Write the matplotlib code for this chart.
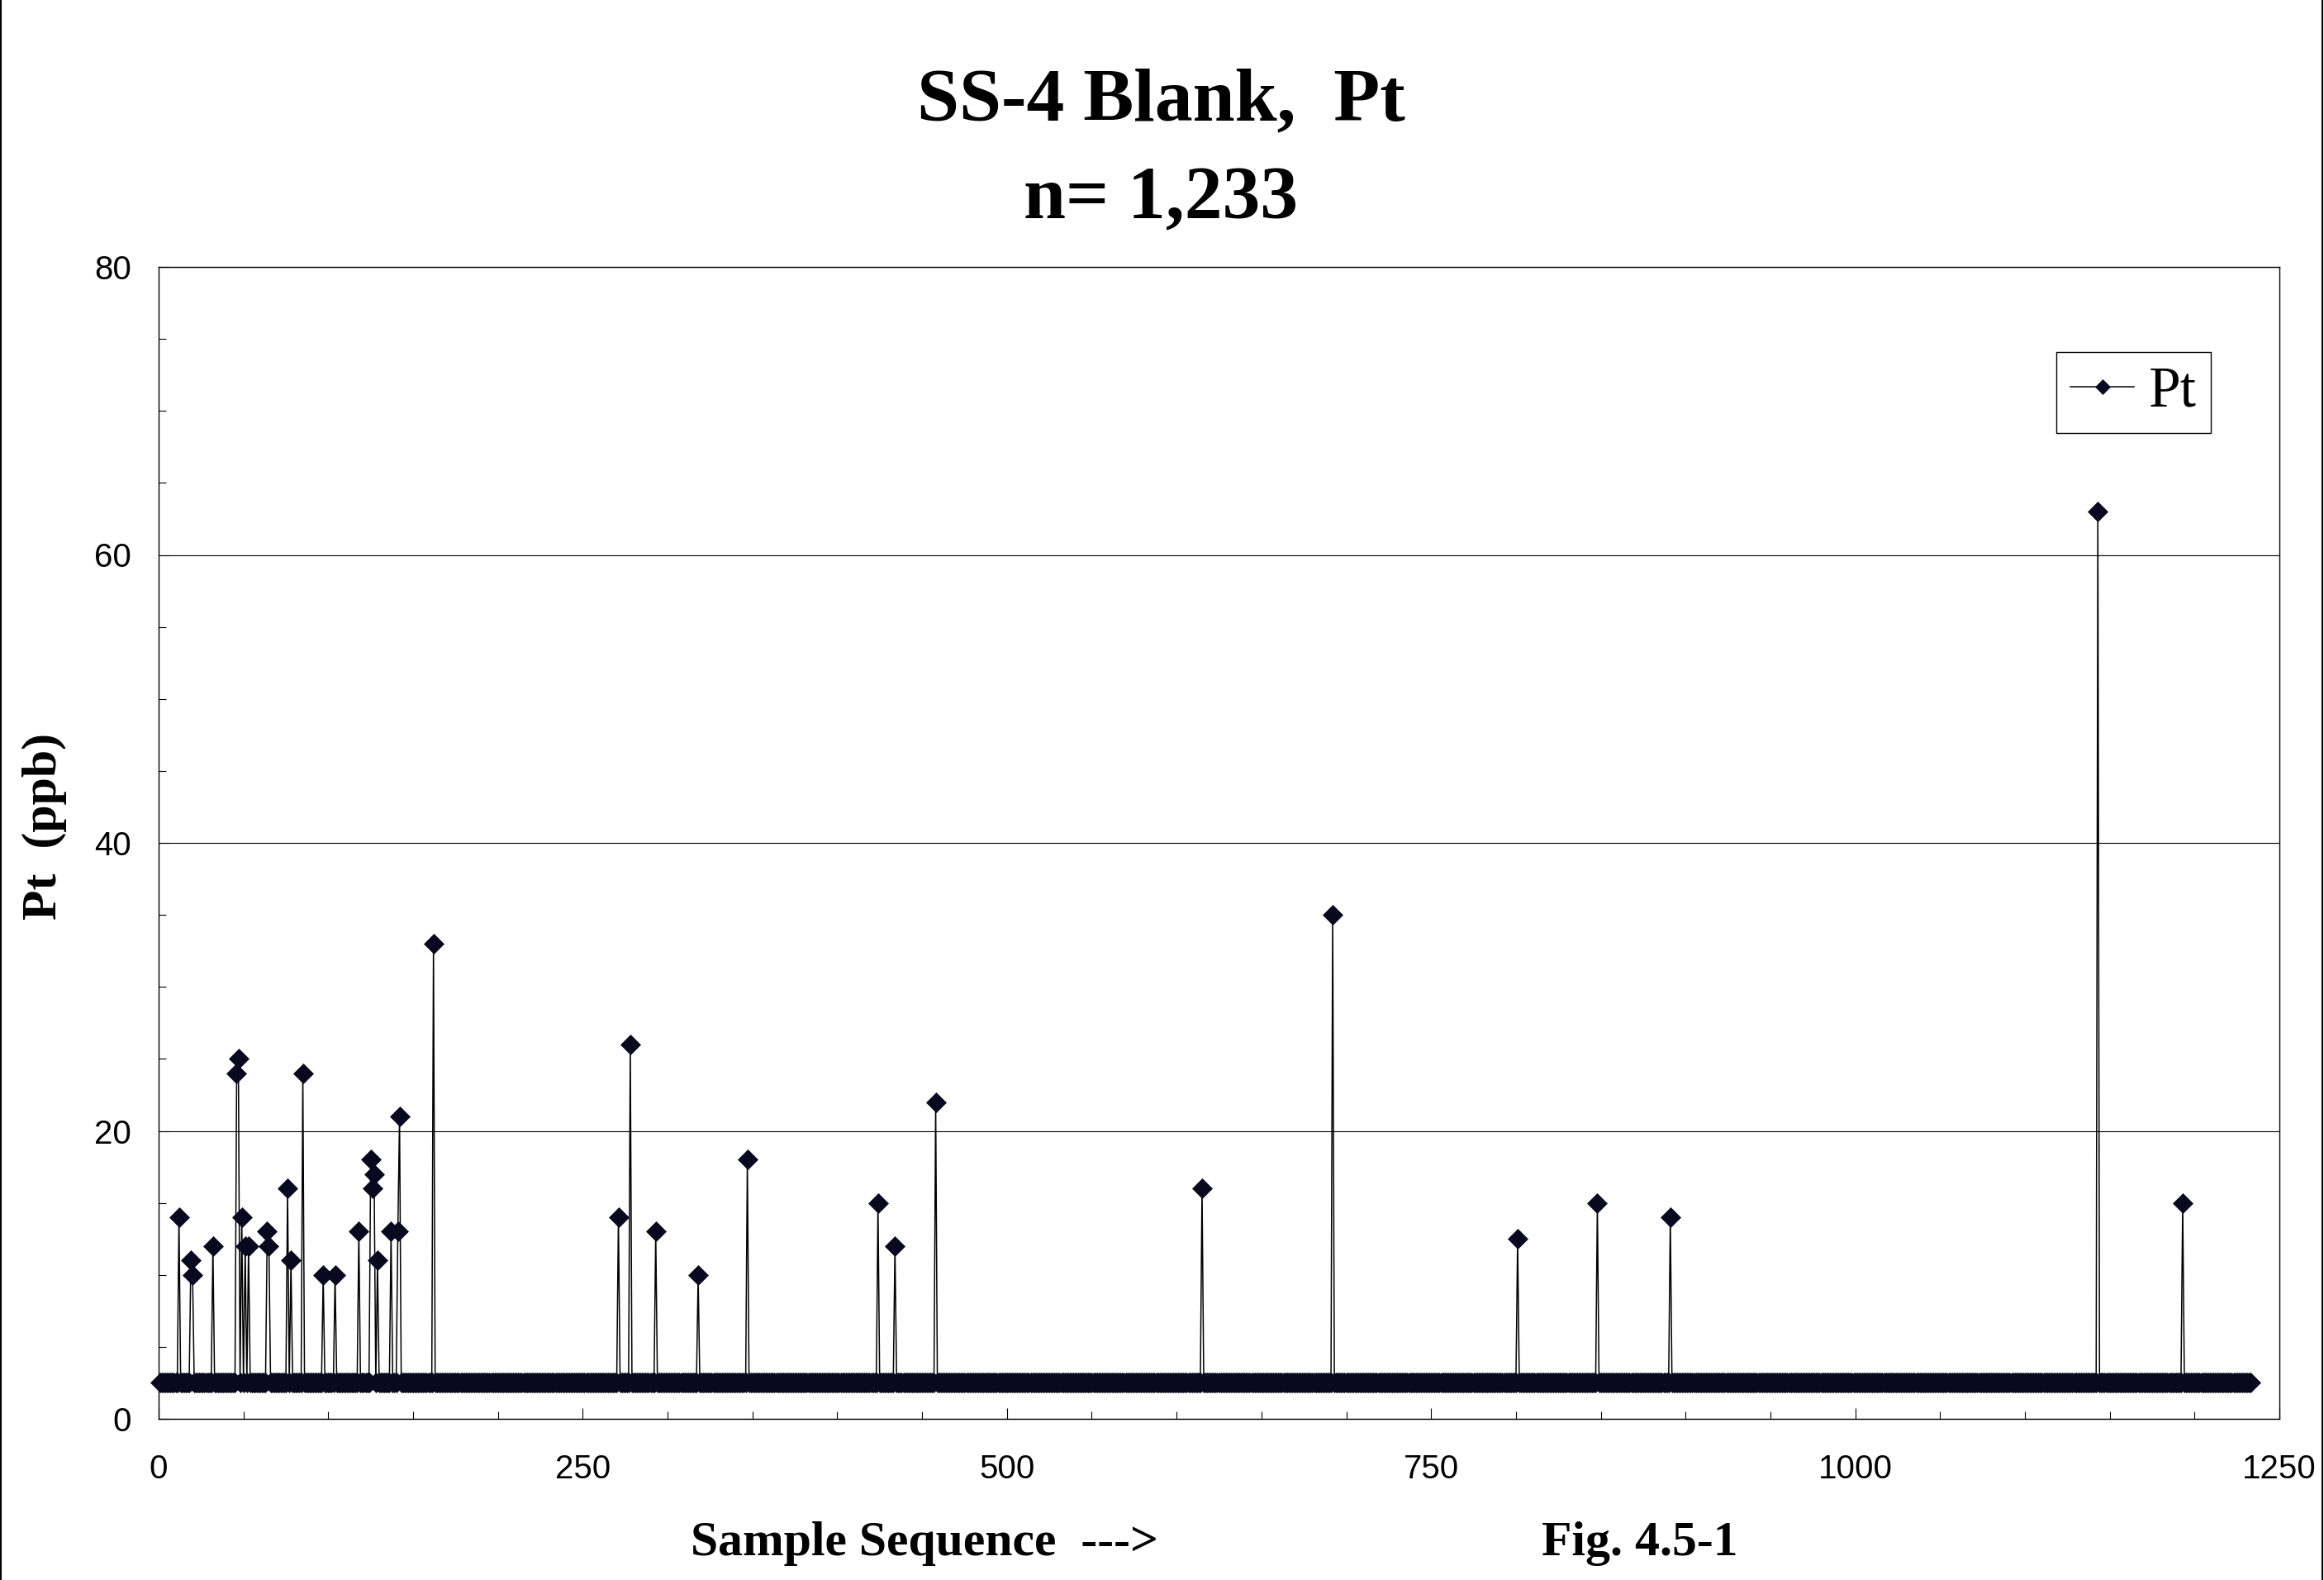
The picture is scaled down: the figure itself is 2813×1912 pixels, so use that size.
import numpy as np
import matplotlib
matplotlib.use("Agg")
import matplotlib.pyplot as plt
from matplotlib.lines import Line2D
from matplotlib.ticker import MultipleLocator


# Pt blank results, sample sequence 1..1233; values below the detection
# limit are plotted at the substituted baseline value
n_samples = 1233
baseline_ppb = 2.5
peak_samples = [12, 19, 20, 32, 46, 47, 49, 51, 53, 64, 65, 76, 78, 85, 97,
                104, 118, 125, 126, 127, 129, 137, 141, 142, 162, 271, 278,
                293, 318, 347, 424, 434, 458, 615, 692, 801, 848, 891, 1143,
                1193]
peak_values = [14, 11, 10, 12, 24, 25, 14, 12, 12, 13, 12, 16, 11, 24, 10,
               10, 13, 18, 16, 17, 11, 13, 13, 21, 33, 14, 26,
               13, 10, 18, 15, 12, 22, 16, 35, 12.5, 15, 14, 63,
               15]

title_lines = ["SS-4 Blank,  Pt", "n= 1,233"]
x_label = "Sample Sequence  --->"
fig_label = "Fig. 4.5-1"
y_label = "Pt  (ppb)"
series_name = "Pt"


def main() -> None:
    seq = np.arange(1, n_samples + 1)
    pt = np.full(n_samples, baseline_ppb)
    pt[np.array(peak_samples) - 1] = peak_values

    W, H = 2813, 1912
    fig = plt.figure(figsize=(W / 100, H / 100), dpi=100)
    ax = fig.add_axes([192 / W, 1 - 1717 / H, (2759 - 192) / W, (1717 - 323) / H])

    ax.plot(seq, pt, color="black", linewidth=1.1, marker="D", markersize=11.8,
            markerfacecolor="#08081e", markeredgecolor="#08081e",
            markeredgewidth=0.5, label=series_name, clip_on=False, zorder=3)

    ax.set_xlim(0, 1250)
    ax.set_ylim(0, 80)
    ax.xaxis.set_major_locator(MultipleLocator(250))
    ax.xaxis.set_minor_locator(MultipleLocator(50))
    ax.yaxis.set_major_locator(MultipleLocator(20))
    ax.yaxis.set_minor_locator(MultipleLocator(5))
    ax.grid(axis="y", which="major", color="black", linewidth=0.8)
    ax.set_axisbelow(True)

    ax.tick_params(axis="both", which="both", direction="in", width=0.8,
                   top=False, right=False)
    ax.tick_params(axis="both", which="major", length=9.4)
    ax.tick_params(axis="both", which="minor", length=6.5)
    ax.tick_params(axis="x", which="major", pad=30)
    ax.tick_params(axis="y", which="major", pad=24)
    for lab in ax.get_xticklabels() + ax.get_yticklabels():
        lab.set_fontfamily("Liberation Sans")
        lab.set_fontsize(29)
    for spine in ax.spines.values():
        spine.set_linewidth(1.0)
        spine.set_color("black")

    serif = "Liberation Serif"
    fig.text(0.4995, 1 - 145 / H, title_lines[0], ha="center", va="baseline",
             fontsize=66, fontweight="bold", family=serif)
    fig.text(0.4995, 1 - 264 / H, title_lines[1], ha="center", va="baseline",
             fontsize=66, fontweight="bold", family=serif)
    fig.text(1119 / W, 1 - 1882 / H, x_label, ha="center", va="baseline",
             fontsize=43, fontweight="bold", family=serif)
    fig.text(1985 / W, 1 - 1882 / H, fig_label, ha="center", va="baseline",
             fontsize=43, fontweight="bold", family=serif)
    fig.text(54 / W, 1 - 1000 / H, y_label, ha="center", va="center",
             rotation=90, fontsize=43, fontweight="bold", family=serif)

    leg = ax.legend(loc="upper right", bbox_to_anchor=(2676 / W, 1 - 426 / H),
                    bbox_transform=fig.transFigure, borderaxespad=0,
                    prop={"family": serif, "size": 50}, handlelength=1.1,
                    handletextpad=0.26, borderpad=0.25, fancybox=False,
                    framealpha=1, markerscale=0.8)
    leg.get_frame().set_edgecolor("black")
    leg.get_frame().set_linewidth(1.0)

    # thin frame lines down both sides of the page
    fig.add_artist(Line2D([0.6 / W, 0.6 / W], [0, 1], transform=fig.transFigure,
                          color="black", linewidth=1.5))
    fig.add_artist(Line2D([1 - 2 / W, 1 - 2 / W], [0, 1], transform=fig.transFigure,
                          color="black", linewidth=1.5))

    fig.savefig("out.png", dpi=100)
    plt.close(fig)


if __name__ == "__main__":
    main()
